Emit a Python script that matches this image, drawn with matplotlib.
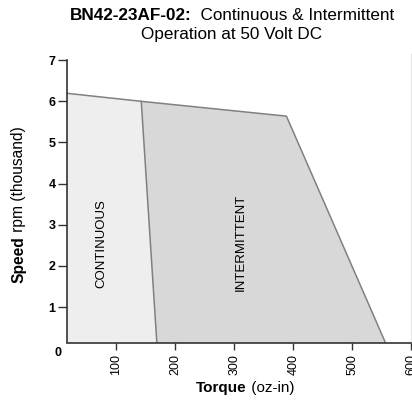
import matplotlib
matplotlib.use("Agg")
import matplotlib.pyplot as plt

plt.rcParams['font.family'] = ['Liberation Sans', 'DejaVu Sans']

# outer limit (intermittent) curve, torque in oz-in, speed in thousand rpm
outer_torque = [0, 142, 388, 560]
outer_speed = [6.22, 6.0, 5.64, 0]
# continuous boundary line
cont_torque = [142, 169]
cont_speed = [6.0, 0]

xticks = [100, 200, 300, 400, 500, 600]
yticks = [1, 2, 3, 4, 5, 6, 7]

fig = plt.figure(figsize=(4.12, 4.0), dpi=100)
ax = fig.add_axes([66.5 / 412, 1 - 342.5 / 400, 345 / 412, 288.5 / 400])

# continuous area
ax.fill([0, cont_torque[0], cont_torque[1], 0],
        [outer_speed[0], cont_speed[0], cont_speed[1], 0],
        color='#eeeeee', lw=0)
# intermittent area
ax.fill([cont_torque[0], outer_torque[2], outer_torque[3], cont_torque[1]],
        [cont_speed[0], outer_speed[2], outer_speed[3], cont_speed[1]],
        color='#d8d8d8', lw=0)
ax.plot(outer_torque, outer_speed, color='#808080', lw=1.1)
ax.plot(cont_torque, cont_speed, color='#808080', lw=1.1)

ax.text(75, 2.54, 'CONTINUOUS', rotation=90, ha='center', va='center', fontsize=9.5)
ax.text(311, 2.57, 'INTERMITTENT', rotation=90, ha='center', va='center', fontsize=9.5)

ax.set_xlim(15.3, 597)
ax.set_ylim(0.14, 7.15)
ax.set_xticks(xticks)
ax.set_yticks(yticks)
ax.set_xticklabels([str(t) for t in xticks], rotation=90, fontsize=9)
ax.set_yticklabels([str(t) for t in yticks], fontsize=9, fontweight='bold')
ax.tick_params(axis='x', length=5, width=1, color='#333333', pad=3.5)
ax.tick_params(axis='y', length=6.5, width=1, color='#333333', pad=1.5)
ax.text(1, -0.12, '0', ha='center', va='center', fontsize=9, fontweight='bold', clip_on=False)

ax.spines['top'].set_visible(False)
ax.spines['left'].set_bounds(0.14, 7)
for s in ['left', 'bottom']:
    ax.spines[s].set_color('#333333')
    ax.spines[s].set_linewidth(1.2)
ax.spines['right'].set_color('#777777')
ax.spines['right'].set_linewidth(1.0)


def two_part(x, y, bold, normal, size, rotation=0):
    # bold word followed by normal text, centered on (x, y) in figure pixels
    r = fig.canvas.get_renderer()
    t1 = fig.text(0, 0, bold, fontsize=size, fontweight='bold', rotation=rotation)
    t2 = fig.text(0, 0, normal, fontsize=size, rotation=rotation)
    w1 = t1.get_window_extent(r)
    w2 = t2.get_window_extent(r)
    W = fig.bbox.width
    H = fig.bbox.height
    if rotation == 0:
        total = w1.width + w2.width
        x0 = x - total / 2
        t1.set_position((x0 / W, 1 - y / H))
        t2.set_position(((x0 + w1.width) / W, 1 - y / H))
        t1.set_va('center'); t2.set_va('center')
    else:
        total = w1.height + w2.height
        y0 = (H - y) - total / 2
        t1.set_position((x / W, y0 / H))
        t2.set_position((x / W, (y0 + w1.height) / H))
        t1.set_ha('center'); t2.set_ha('center')


two_part(232, 15, 'BN42-23AF-02:', '  Continuous & Intermittent', 12.3)
fig.text(232 / 412, 1 - 34 / 400, 'Operation at 50 Volt DC', fontsize=12.3, ha='center', va='center')
two_part(245, 388, 'Torque', ' (oz-in)', 11)
two_part(19, 202, 'Speed', ' rpm (thousand)', 11.2, rotation=90)

fig.savefig('out.png', dpi=100)
